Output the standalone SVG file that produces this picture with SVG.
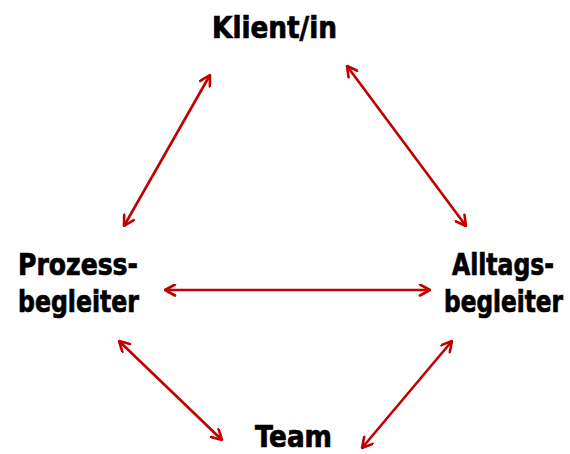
<svg xmlns="http://www.w3.org/2000/svg" width="570" height="454" viewBox="0 0 570 454">
<style>
.lbl{font-family:"DejaVu Sans Condensed","DejaVu Sans",sans-serif;font-weight:bold;font-size:30px;fill:#000;stroke:#000;stroke-width:0.7;}
.r{text-anchor:end;}
.con line{stroke:#C00000;stroke-width:2.6;marker-start:url(#ah);marker-end:url(#ah);}
</style>
<defs>
<marker id="ah" viewBox="0 0 13 13" refX="12" refY="6.5" markerWidth="13" markerHeight="13" markerUnits="userSpaceOnUse" orient="auto-start-reverse">
<path d="M2,1 L12,6.5 L2,12" fill="none" stroke="#C00000" stroke-width="2.6" stroke-linecap="round" stroke-linejoin="round"/>
</marker>
</defs>
<rect width="570" height="454" fill="#fff"/>
<g id="klient"><text class="lbl" x="212" y="38" textLength="125" lengthAdjust="spacingAndGlyphs">Klient/in</text></g>
<g id="prozess"><text class="lbl" x="18" y="275" textLength="120" lengthAdjust="spacingAndGlyphs">Prozess-</text><text class="lbl" x="18" y="312" textLength="121" lengthAdjust="spacingAndGlyphs">begleiter</text></g>
<g id="alltags"><text class="lbl r" x="554" y="275" textLength="102" lengthAdjust="spacingAndGlyphs">Alltags-</text><text class="lbl r" x="563" y="312" textLength="119" lengthAdjust="spacingAndGlyphs">begleiter</text></g>
<g id="team"><text class="lbl" x="255" y="447" textLength="77" lengthAdjust="spacingAndGlyphs">Team</text></g>
<g id="connectors" class="con">
<line x1="210" y1="75" x2="124" y2="226"/>
<line x1="347" y1="66" x2="466" y2="226"/>
<line x1="165" y1="290" x2="430" y2="290"/>
<line x1="119" y1="341" x2="222" y2="440"/>
<line x1="452" y1="341" x2="362" y2="448"/>
</g>
</svg>
